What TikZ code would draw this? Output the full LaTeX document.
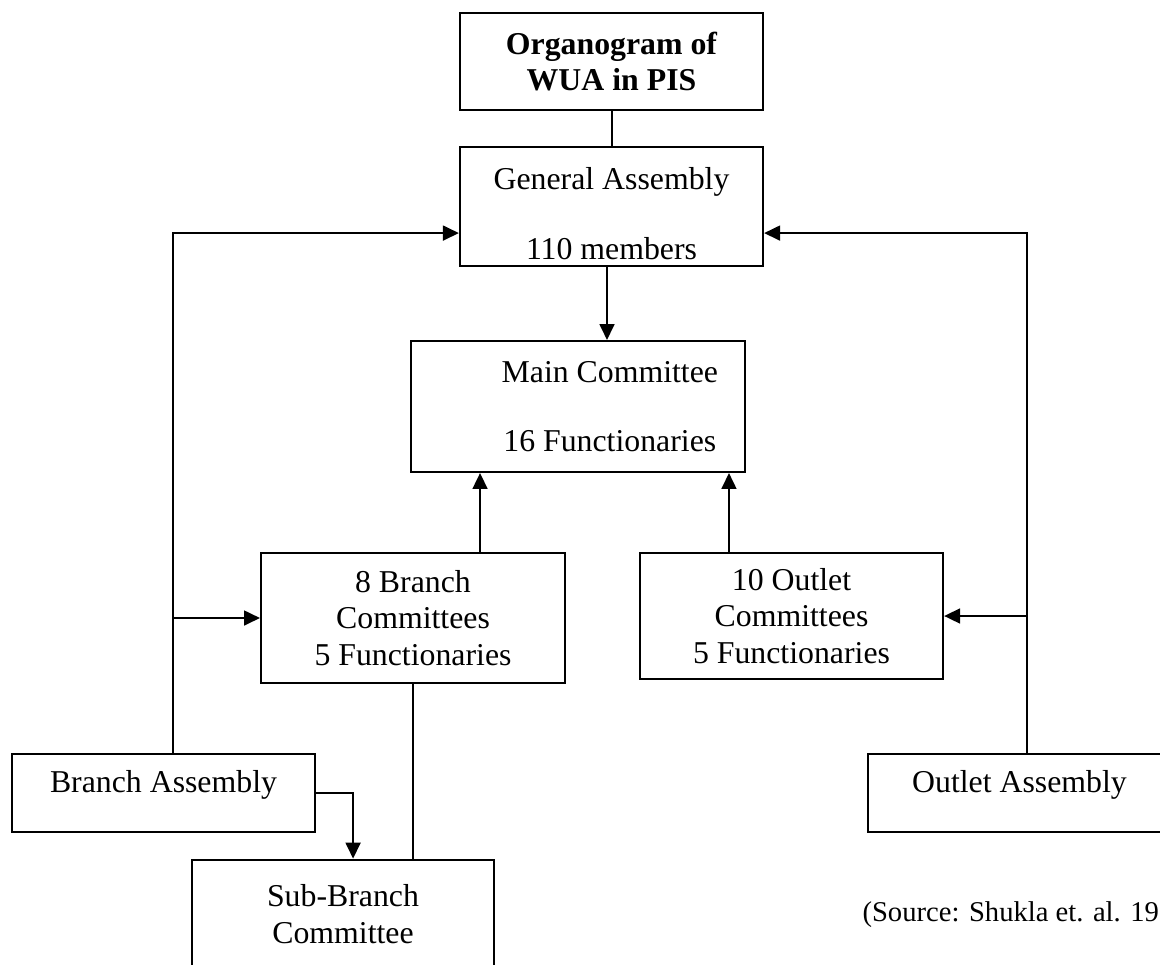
\documentclass[tikz,border=0pt]{standalone}
\usepackage{fontspec}
\setmainfont{Liberation Serif}
\usetikzlibrary{arrows.meta,positioning,calc}
\tikzset{
    box/.style={
        draw,
        line width=0.8pt,
        align=center,
        inner sep=0pt,
        minimum width=114.4pt,
        font=\fontsize{12}{13.8}\selectfont
    },
    boxtext/.style={align=center, inner sep=0pt, font=\fontsize{12}{13.8}\selectfont},
    flow/.style={-{Triangle[length=6pt,width=5.6pt]}, line width=0.75pt},
    link/.style={line width=0.75pt}
}

\begin{document}
\begin{tikzpicture}[x=0.3774pt, y=-0.3774pt, node distance=13.2pt]
    \useasboundingbox (0,0) rectangle (1160,964);
    \clip (0,0) rectangle (1160,964);
    % top of the chart
    \node[box, minimum height=36.6pt, font=\fontsize{12}{13.8}\selectfont\bfseries] (title) at (611.5,61.5) {Organogram of\\WUA in PIS};
    \node[box, below=of title, minimum height=44.9pt] (ga) {};
    \node[boxtext] (gatext) at ([yshift=-2.6pt]ga.center) {General Assembly\\[12.4pt]110 members};
    \node[box, minimum width=126.1pt, minimum height=49.4pt] (mc) at (578,406.5) {};
    \node[boxtext] (mctext) at ([xshift=12pt]mc.center) {Main Committee\\[12.4pt]16 Functionaries};
    % committees
    \node[box, minimum width=114.7pt, minimum height=49.1pt] (bc) at (413,618) {8 Branch\\Committees\\5 Functionaries};
    \node[box, minimum height=47.6pt] (oc) at (791.5,616) {10 Outlet\\Committees\\5 Functionaries};
    % assemblies
    \node[box, minimum height=29.4pt, text depth=9pt] (ba) at (163.5,793) {Branch Assembly};
    \node[box, minimum height=29.4pt, text depth=9pt] (oa) at (1019.5,793) {Outlet Assembly};
    \node[box, minimum width=114pt, minimum height=41pt] (sb) at (343,914) {Sub-Branch\\Committee};
    \node[anchor=west, inner sep=0pt, font=\fontsize{10.8}{13}\selectfont] (source) at (862,915) {(Source: Shukla et. al. 19};

    \draw[link] (title) -- (ga);
    \draw[flow] ([xshift=-1.7pt]ga.south) -- ([xshift=-1.7pt]ga.south |- mc.north);
    \draw[flow] ([xshift=25.3pt]bc.north) -- ([xshift=25.3pt]bc.north |- mc.south);
    \draw[flow] ([xshift=-23.6pt]oc.north) -- ([xshift=-23.6pt]oc.north |- mc.south);
    \draw[flow] ([xshift=3.5pt]ba.north) |- ([yshift=-10pt]ga.west);
    \draw[flow] ([xshift=3.5pt]ba.north) |- (bc.west);
    \draw[flow] ([xshift=2.8pt]oa.north) |- ([yshift=-10pt]ga.east);
    \draw[flow] ([xshift=2.8pt]oa.north) |- (oc.east);
    \draw[flow] (ba.east) -| ([xshift=3.8pt]sb.north);
    \draw[link] (bc.south) -- (bc.south |- sb.north);
\end{tikzpicture}
\end{document}
